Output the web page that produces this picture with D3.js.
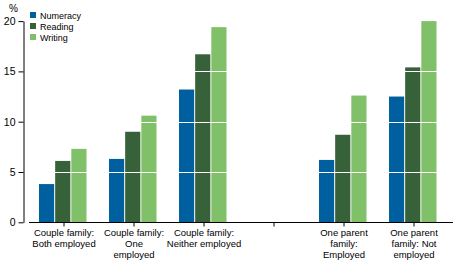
<!DOCTYPE html>
<html><head><meta charset="utf-8">
<script src="https://cdn.jsdelivr.net/npm/d3@7"></script>
<style>body{margin:0;background:#fff}svg{display:block}text{font-family:"Liberation Sans",Arial,sans-serif;fill:#000}</style>
</head><body><svg id="c" width="454" height="265"></svg>
<script>
const categories = ["Couple family: Both employed","Couple family: One employed","Couple family: Neither employed","","One parent family: Employed","One parent family: Not employed"];
const categoryLines = [["Couple family:","Both employed"],["Couple family:","One","employed"],["Couple family:","Neither employed"],[],["One parent","family:","Employed"],["One parent","family: Not","employed"]];
const seriesNames = ["Numeracy","Reading","Writing"];
const numeracy = [3.8, 6.3, 13.2, null, 6.2, 12.5];
const reading  = [6.1, 9.0, 16.7, null, 8.7, 15.4];
const writing  = [7.3, 10.6, 19.4, null, 12.6, 20.0];
const yTicks = [0,5,10,15,20];
const colors = ["#00609f","#376139","#80c068"];

const svg = d3.select("#c");
const x = d3.scaleBand().domain(categories.map((d,i)=>i)).range([29,449]).padding(0);
const xs = d3.scaleBand().domain([0,1,2]).range([10,58.5]).padding(0);
const y = d3.scaleLinear().domain([0,20]).range([222.3,21.1]);
const series = [numeracy, reading, writing];

series.forEach((vals,si)=>{
  svg.append("g").selectAll("rect").data(vals.map((v,i)=>({v,i})).filter(d=>d.v!=null))
    .join("rect")
    .attr("x",d=>x(d.i)+xs(si))
    .attr("width",xs.bandwidth()-1)
    .attr("y",d=>y(d.v))
    .attr("height",d=>y(0)-y(d.v))
    .attr("fill",colors[si]);
});

// white gridlines over bars
svg.append("g").selectAll("line").data([5,10,15]).join("line")
  .attr("x1",24).attr("x2",452)
  .attr("y1",d=>Math.round(y(d))+0.5).attr("y2",d=>Math.round(y(d))+0.5)
  .attr("stroke","#fff").attr("stroke-width",1.2);

// y axis
const ya = svg.append("g").attr("transform","translate(23.5,0)")
  .call(d3.axisLeft(y).tickValues(yTicks).tickSize(5).tickSizeOuter(0).tickPadding(3));
ya.select(".domain").attr("stroke","#000");
ya.selectAll(".tick line").attr("stroke","#000");
ya.selectAll("text").style("font-size","10.5px").attr("fill","#000");
svg.append("text").attr("x",9).attr("y",12).style("font-size","10px").text("%");

// x axis
const xa = svg.append("g").attr("transform","translate(0,222.5)")
  .call(d3.axisBottom(x).tickSize(4).tickSizeOuter(0).tickFormat(""));
xa.select(".domain").attr("d","M29,0H453").attr("stroke","#000");
xa.selectAll(".tick line").attr("stroke","#000");

// category labels
const lab = svg.append("g");
categoryLines.forEach((lines,i)=>{
  const t = lab.append("text").attr("text-anchor","middle").style("font-size","9.5px")
    .attr("transform",`translate(${x(i)+x.bandwidth()/2},236)`);
  lines.forEach((l,k)=>t.append("tspan").attr("x",0).attr("dy",k?11:0).text(l));
});

// legend
const lg = svg.append("g").attr("transform","translate(30,12)");
seriesNames.forEach((n,i)=>{
  lg.append("rect").attr("x",0).attr("y",i*11).attr("width",6).attr("height",6).attr("fill",colors[i]);
  lg.append("text").attr("x",10).attr("y",i*11+6.5).style("font-size","9px").text(n);
});
</script></body></html>
